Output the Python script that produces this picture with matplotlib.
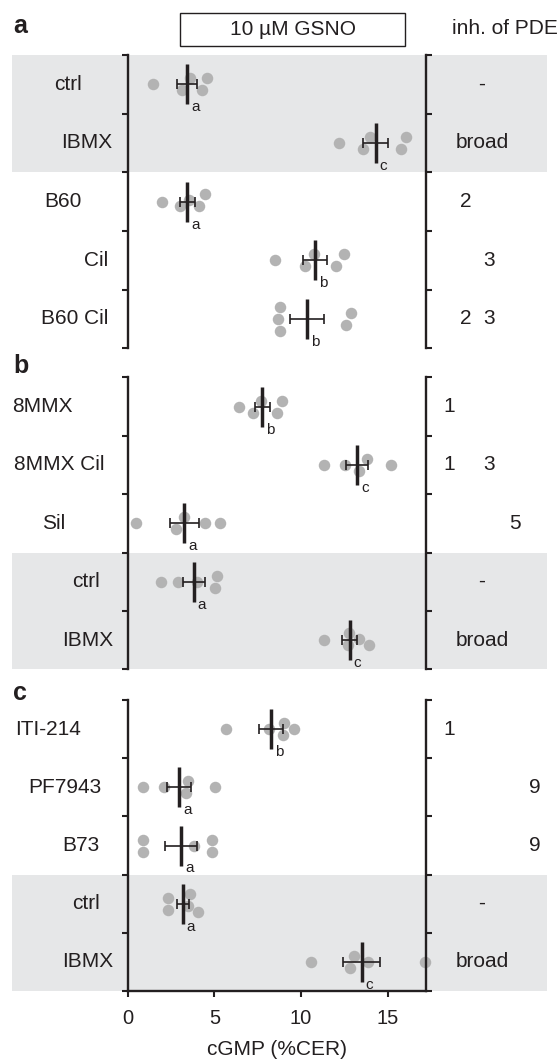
import numpy as np
import matplotlib
matplotlib.use("Agg")
import matplotlib.pyplot as plt
from matplotlib.transforms import blended_transform_factory
from matplotlib.patches import Rectangle

plt.rcParams['font.family'] = ['Liberation Sans', 'DejaVu Sans']

# ---------------- data ----------------
a_labels = ["ctrl", "IBMX", "B60", "Cil", "B60 Cil"]
a_values = [
    [1.48, 3.12, 3.60, 4.31, 4.60],
    [12.21, 13.56, 13.97, 15.78, 16.09],
    [1.97, 3.02, 3.56, 4.14, 4.47],
    [8.50, 10.25, 10.75, 12.04, 12.46],
    [8.65, 8.80, 8.80, 12.60, 12.91],
]
a_letters = ["a", "c", "a", "b", "b"]
a_pde = [["-"], ["broad"], [2], [3], [2, 3]]

b_labels = ["8MMX", "8MMX Cil", "Sil", "ctrl", "IBMX"]
b_values = [
    [6.44, 7.26, 7.69, 8.61, 8.90],
    [11.31, 12.56, 13.33, 13.82, 15.20],
    [0.48, 2.77, 3.25, 4.47, 5.34],
    [1.92, 2.89, 3.99, 5.05, 5.18],
    [11.31, 12.72, 12.75, 13.33, 13.91],
]
b_letters = ["b", "c", "a", "a", "c"]
b_pde = [[1], [1, 3], [5], ["-"], ["broad"]]

c_labels = ["ITI-214", "PF7943", "B73", "ctrl", "IBMX"]
c_values = [
    [5.68, 8.13, 8.94, 9.03, 9.57],
    [0.87, 2.12, 3.37, 3.50, 5.01],
    [0.90, 0.90, 3.85, 4.89, 4.89],
    [2.35, 2.35, 3.50, 3.60, 4.08],
    [10.58, 12.85, 13.08, 13.87, 17.15],
]
c_letters = ["b", "a", "a", "a", "c"]
c_pde = [[1], [9], [9], ["-"], ["broad"]]

shaded_groups = ["ctrl", "IBMX"]
x_ticks = [0, 5, 10, 15]
x_max = 17.2
x_label = "cGMP (%CER)"
header_box = "10 µM GSNO"
header_right = "inh. of PDE"

# ---------------- layout (pixels) ----------------
W, H = 558, 1060
AX_L, AX_R = 127.7, 425.7
panels = [
    dict(letter="a", top=55.0, bottom=348.3, letter_y=33,
         labels=a_labels, values=a_values, sig=a_letters, pde=a_pde,
         label_right=[82, 112, 82, 108, 108]),
    dict(letter="b", top=377.3, bottom=669.3, letter_y=373,
         labels=b_labels, values=b_values, sig=b_letters, pde=b_pde,
         label_right=[73, 105, 65, 100, 113]),
    dict(letter="c", top=700.0, bottom=991.0, letter_y=700,
         labels=c_labels, values=c_values, sig=c_letters, pde=c_pde,
         label_right=[81, 101, 100, 100, 113]),
]
pde_x = {1: 449, 2: 466, 3: 489, 5: 515, 9: 535}
pde_text_x = 482
band_x0, band_x1 = 12, 547

DOT = "#b3b3b3"
INK = "#231f20"
BAND = "#e6e7e8"
FS = 15
DOT_D = 11.5  # px


def swarm_offsets(vals, px_per_x, diam=11.0, step=6.0):
    vals = np.asarray(vals, dtype=float)
    order = np.argsort(vals, kind="stable")
    xs = vals * px_per_x
    offs = np.zeros(len(vals))
    cands = [0.0]
    for k in range(1, 8):
        cands += [-k * step, k * step]
    groups, cur = [], [order[0]]
    for i in order[1:]:
        if xs[i] - xs[cur[-1]] < diam:
            cur.append(i)
        else:
            groups.append(cur)
            cur = [i]
    groups.append(cur)
    for g in groups:
        placed = []
        for i in g:
            for c in cands:
                if all(np.hypot(xs[i] - xs[j], c - offs[j]) >= diam for j in placed):
                    offs[i] = c
                    break
            placed.append(i)
        offs[g] -= offs[g].mean()
    return offs


fig = plt.figure(figsize=(W / 100, H / 100), dpi=100)


def fx(px):
    return px / W


def fy(py):
    return 1 - py / H


for pi, p in enumerate(panels):
    top, bottom = p["top"], p["bottom"]
    ax = fig.add_axes([fx(AX_L), fy(bottom), (AX_R - AX_L) / W, (bottom - top) / H])
    n = len(p["labels"])
    row_px = (bottom - top) / n
    xpx = (AX_R - AX_L) / x_max
    ax.patch.set_visible(False)
    ax.set_autoscale_on(False)
    ax.set_xlim(0, x_max)
    ax.set_ylim(n, 0)
    trans = blended_transform_factory(fig.transFigure, ax.transData)

    # shaded reference rows
    rows = [i for i, l in enumerate(p["labels"]) if l in shaded_groups]
    runs = []
    for r in rows:
        if runs and r == runs[-1][1]:
            runs[-1][1] = r + 1
        else:
            runs.append([r, r + 1])
    for r0, r1 in runs:
        ax.add_patch(Rectangle((fx(band_x0), r0), fx(band_x1) - fx(band_x0), r1 - r0,
                               transform=trans, facecolor=BAND, edgecolor="none",
                               zorder=0, clip_on=False))

    for i, (lab, vals, sig, pde) in enumerate(zip(p["labels"], p["values"], p["sig"], p["pde"])):
        yc = i + 0.5
        v = np.asarray(vals, dtype=float)
        offs = swarm_offsets(v, xpx) / row_px
        ax.scatter(v, yc + offs, s=(DOT_D * 0.72) ** 2, color=DOT, linewidths=0,
                   zorder=2, clip_on=False)
        m = v.mean()
        sem = v.std(ddof=1) / np.sqrt(len(v))
        ax.errorbar([m], [yc], xerr=[sem], fmt="none", ecolor=INK, elinewidth=1.2,
                    capsize=3.6, capthick=1.2, zorder=3)
        ax.plot([m, m], [yc - 20 / row_px, yc + 20 / row_px], color=INK, lw=2.5,
                solid_capstyle="butt", zorder=4)
        ax.annotate(sig, xy=(m, yc), xytext=(4 * 0.72, -23 * 0.72),
                    textcoords="offset points", ha="left", va="center",
                    fontsize=11, color=INK)
        ax.text(fx(p["label_right"][i]), yc, lab, transform=trans, ha="right",
                va="center", fontsize=FS, color=INK)
        for tok in pde:
            xx = pde_x[tok] if isinstance(tok, int) else pde_text_x
            ax.text(fx(xx), yc, str(tok), transform=trans, ha="center", va="center",
                    fontsize=FS, color=INK)

    ax.spines["top"].set_visible(False)
    for s in ["left", "right", "bottom"]:
        ax.spines[s].set_linewidth(1.7)
        ax.spines[s].set_color(INK)
    ax.set_yticks(np.arange(n + 1))
    ax.tick_params(axis="y", which="both", direction="out", length=4, width=1.5,
                   left=True, right=True, labelleft=False, labelright=False, color=INK)
    if pi < 2:
        ax.spines["bottom"].set_visible(False)
        ax.set_xticks([])
    else:
        ax.set_xticks(x_ticks)
        ax.set_xticklabels([str(t) for t in x_ticks])
        ax.tick_params(axis="x", direction="out", length=4, width=1.5, labelsize=14.5,
                       pad=9, color=INK, labelcolor=INK)
        ax.set_xlabel(x_label, fontsize=FS, color=INK, labelpad=8.5)

    fig.text(fx(13), fy(p["letter_y"]), p["letter"], fontsize=18, fontweight="bold",
             ha="left", va="baseline", color=INK)

# header
fig.add_artist(Rectangle((fx(180), fy(46)), fx(405) - fx(180), fy(13) - fy(46),
                         transform=fig.transFigure, fill=False, lw=1.0, edgecolor=INK))
fig.text(fx(292.5), fy(29.5), header_box, ha="center", va="center", fontsize=FS, color=INK)
fig.text(fx(452), fy(29), header_right, ha="left", va="center", fontsize=FS, color=INK)

fig.savefig("out.png", dpi=100)
